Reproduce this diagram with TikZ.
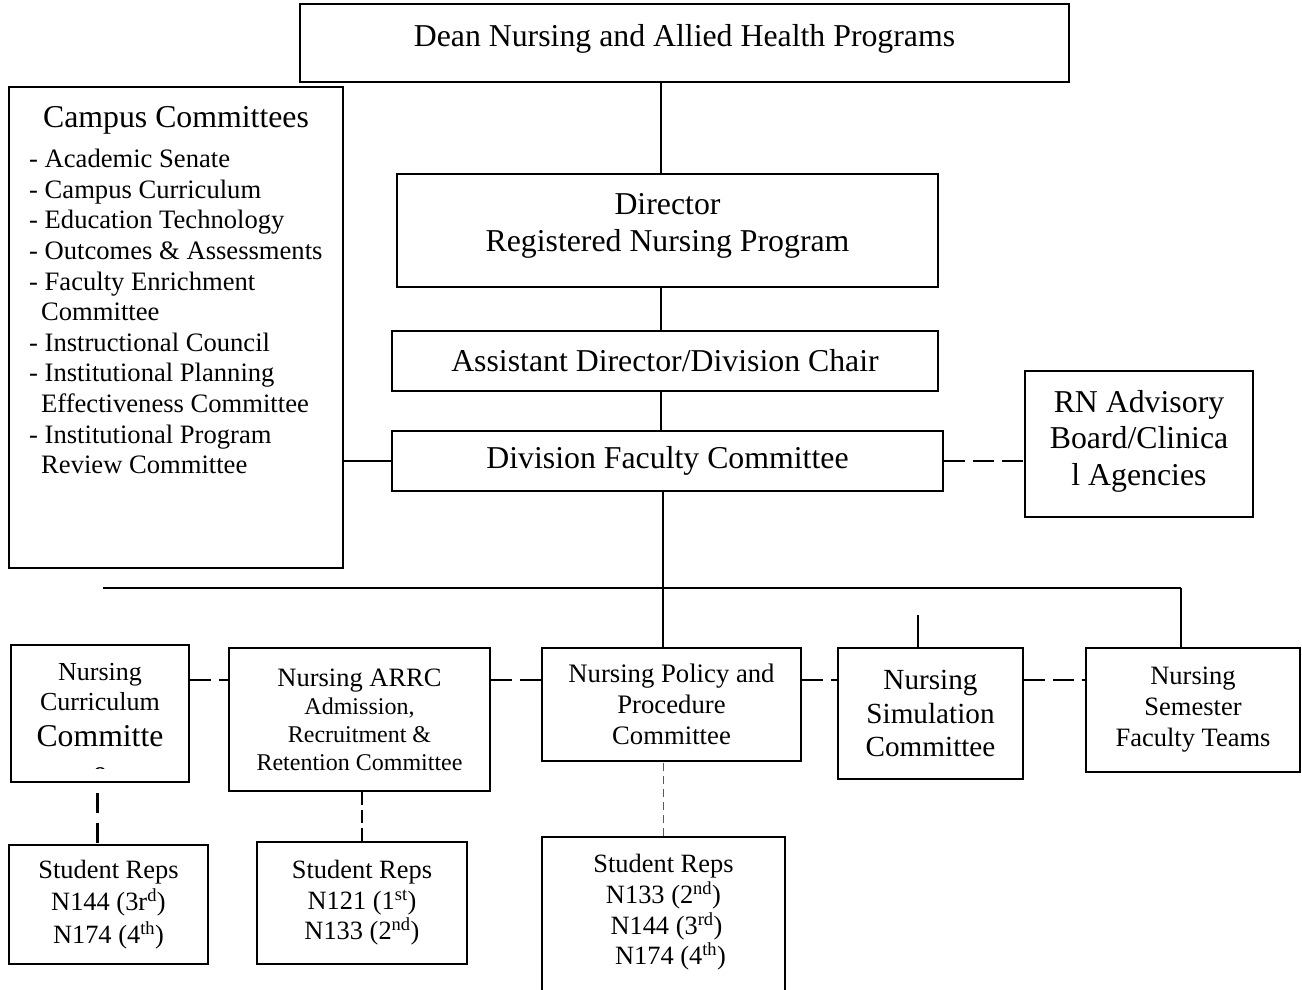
\documentclass[tikz,border=0pt]{standalone}
\usepackage{fontspec}
\setmainfont{Liberation Serif}

\begin{document}
\begin{tikzpicture}[x=1pt,y=-1pt,
  box/.style={draw, line width=1.8pt, inner sep=0pt, align=center},
  big/.style={font=\fontsize{31.8}{37}\selectfont},
  link/.style={line width=1.3pt},
  dashlink/.style={line width=2.6pt, dash pattern=on 21pt off 8pt},
  dashthin/.style={line width=1.6pt, dash pattern=on 13pt off 5pt},
  dashgrey/.style={line width=1.2pt, gray!70!black, dash pattern=on 8pt off 5pt}]

 \useasboundingbox (0,0) rectangle (1302,989);

 % top of the chart
 \node[box, big, anchor=north, minimum width=769pt, text height=42.5pt, text depth=35.5pt] (dean) at (684.5,3) {Dean Nursing and Allied Health Programs};
 \node[box, big, anchor=north, minimum width=541pt, text height=77.5pt, text depth=35.5pt] (dir) at (667.5,173) {Director\\Registered Nursing Program};
 \node[box, big, minimum width=546pt, minimum height=60pt] (asst) at (665,361) {Assistant Director/Division Chair};
 \node[box, big, minimum width=551pt, minimum height=60pt] (div) at (667.5,461) {Division Faculty Committee};
 \node[box, anchor=north, minimum width=228pt, text height=114.5pt, text depth=31.5pt,
   font=\fontsize{31.8}{36.5}\selectfont] (rn) at (1139,370) {RN Advisory\\Board/Clinica\\l Agencies};

 % campus committees
 \node[box, minimum width=334pt, minimum height=481pt] (campus) at (176,327.5) {};
 \node[big] (camptitle) at (176,120) {Campus Committees};
 \node[anchor=north west, inner sep=0pt, align=left, font=\fontsize{26.6}{30.6}\selectfont] (camplist) at (29,149) {%
  - Academic Senate\\
  - Campus Curriculum\\
  - Education Technology\\
  - Outcomes \& Assessments\\
  - Faculty Enrichment\\
  \hspace*{12pt}Committee\\
  - Instructional Council\\
  - Institutional Planning\\
  \hspace*{12pt}Effectiveness Committee\\
  - Institutional Program\\
  \hspace*{12pt}Review Committee};

 % committees
 \node[box, minimum width=178pt, minimum height=137pt] (curr) at (100,713.5) {};
 \begin{scope}
  \clip (curr.north west) rectangle ([yshift=14pt]curr.south east);
  \node[align=center, inner sep=0pt, anchor=north, font=\fontsize{26}{30}\selectfont] (currtext) at (100,663)
   {Nursing\\Curriculum\\[6pt]{\fontsize{31.7}{36}\selectfont Committe}\\[6pt]{\fontsize{31.7}{36}\selectfont e}};
 \end{scope}
 \node[box, minimum width=261pt, minimum height=143pt, font=\fontsize{24}{28}\selectfont] (arrc) at (359.5,719.5)
  {{\fontsize{26.5}{28}\selectfont Nursing ARRC}\\Admission,\\Recruitment \&\\Retention Committee};
 \node[box, minimum width=259pt, minimum height=113pt, font=\fontsize{26.7}{31}\selectfont] (pol) at (671.5,704.5)
  {Nursing Policy and\\Procedure\\Committee};
 \node[box, minimum width=185pt, minimum height=131pt, font=\fontsize{29.2}{33.5}\selectfont] (sim) at (930.5,713.5)
  {Nursing\\Simulation\\Committee};
 \node[box, minimum width=214pt, minimum height=124pt, font=\fontsize{26.5}{31}\selectfont] (sem) at (1193,710)
  {Nursing\\Semester\\Faculty Teams};

 % student representatives
 \node[box, minimum width=199pt, minimum height=119pt, font=\fontsize{26.4}{32.5}\selectfont] (sr1) at (108.5,904.5)
  {Student Reps\\N144 (3r\textsuperscript{d})\\N174 (4\textsuperscript{th})};
 \node[box, minimum width=210pt, minimum height=122pt, font=\fontsize{26.4}{30.5}\selectfont] (sr2) at (362,903)
  {Student Reps\\N121 (1\textsuperscript{st})\\N133 (2\textsuperscript{nd})};
 \node[box, anchor=north, minimum width=243pt, text height=128pt, text depth=36pt, font=\fontsize{26.4}{30.7}\selectfont] (sr3) at (663.5,836)
  {Student Reps\\N133 (2\textsuperscript{nd})\\\hspace*{6pt}N144 (3\textsuperscript{rd})\\\hspace*{14pt}N174 (4\textsuperscript{th})};

 % reporting lines
 \coordinate (spine) at (661,0);
 \draw[link] (dean.south -| spine) -- (dir.north -| spine);
 \draw[link] (dir.south -| spine) -- (asst.north -| spine);
 \draw[link] (asst.south -| spine) -- (div.north -| spine);
 \draw[line width=2.6pt] (div.west) -- (campus.east |- div.west);
 \draw[dashlink] (div.east) -- (rn.west |- div.east);

 % Division down to the committees
 \coordinate (hlwest) at (103,588);
 \coordinate (trunk) at (663,588);
 \coordinate (hleast) at (1181,588);
 \coordinate (simstub) at (918,615);
 \draw[link] (hlwest) -- (hleast);
 \draw[link] (div.south -| trunk) -- (trunk |- pol.north);
 \draw[link] (hleast) -- (hleast |- sem.north);
 \draw[line width=2.6pt] ([yshift=31pt]hleast |- sem.north) -- (hleast |- sem.north);
 \draw[link] (simstub) -- (simstub |- sim.north);

 % dashed links between committees
 \coordinate (dashrow) at (0,680);
 \draw[dashlink] (curr.east |- dashrow) -- (arrc.west |- dashrow);
 \draw[dashlink] (arrc.east |- dashrow) -- (pol.west |- dashrow);
 \draw[dashlink] (pol.east |- dashrow) -- (sim.west |- dashrow);
 \draw[dashlink] (sim.east |- dashrow) -- (sem.west |- dashrow);

 % committees to student reps
 \draw[line width=3pt, dash pattern=on 20pt off 10pt, dash phase=20pt] ([xshift=-3pt]curr.south) -- ([xshift=-3pt]curr.south |- sr1.north);
 \draw[dashthin] (sr2.north) -- (sr2.north |- arrc.south);
 \draw[dashgrey] (sr3.north) -- (sr3.north |- pol.south);

\end{tikzpicture}
\end{document}
